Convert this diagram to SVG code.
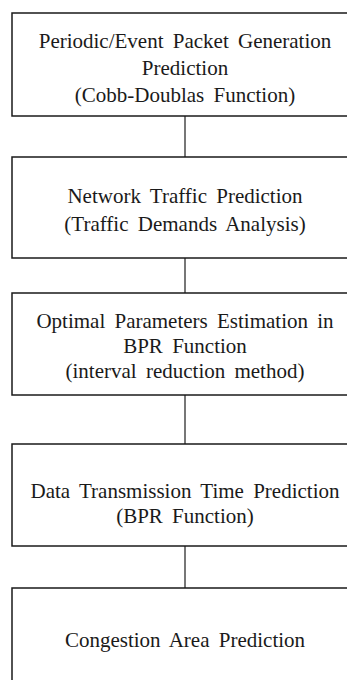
<svg xmlns="http://www.w3.org/2000/svg" width="347" height="680" viewBox="0 0 347 680">
<style>
.box{fill:#fff;stroke:#1a1a1a;stroke-width:1.5}
.t{font-family:"Liberation Serif","Times New Roman",serif;font-size:21px;fill:#1a1a1a;text-anchor:middle;word-spacing:4px}
.c{stroke:#555;stroke-width:1.6;fill:none}
</style>
<rect width="347" height="680" fill="#fff"/>
<g id="connectors">
<line class="c" x1="185" y1="116" x2="185" y2="157"/>
<line class="c" x1="185" y1="258" x2="185" y2="293"/>
<line class="c" x1="185" y1="395" x2="185" y2="444"/>
<line class="c" x1="185" y1="546" x2="185" y2="588"/>
</g>
<g id="node1">
<rect class="box" x="12" y="13" width="346" height="103"/>
<text class="t" x="185" y="48">Periodic/Event Packet Generation</text>
<text class="t" x="185" y="75">Prediction</text>
<text class="t" x="185" y="102">(Cobb-Doublas Function)</text>
</g>
<g id="node2">
<rect class="box" x="12" y="157" width="346" height="101"/>
<text class="t" x="185" y="203">Network Traffic Prediction</text>
<text class="t" x="185" y="231">(Traffic Demands Analysis)</text>
</g>
<g id="node3">
<rect class="box" x="12" y="293" width="346" height="102"/>
<text class="t" x="185" y="328">Optimal Parameters Estimation in</text>
<text class="t" x="185" y="353">BPR Function</text>
<text class="t" x="185" y="378">(interval reduction method)</text>
</g>
<g id="node4">
<rect class="box" x="12" y="444" width="346" height="102"/>
<text class="t" x="185" y="498">Data Transmission Time Prediction</text>
<text class="t" x="185" y="523">(BPR Function)</text>
</g>
<g id="node5">
<rect class="box" x="12" y="588" width="346" height="110"/>
<text class="t" x="185" y="647">Congestion Area Prediction</text>
</g>
</svg>
